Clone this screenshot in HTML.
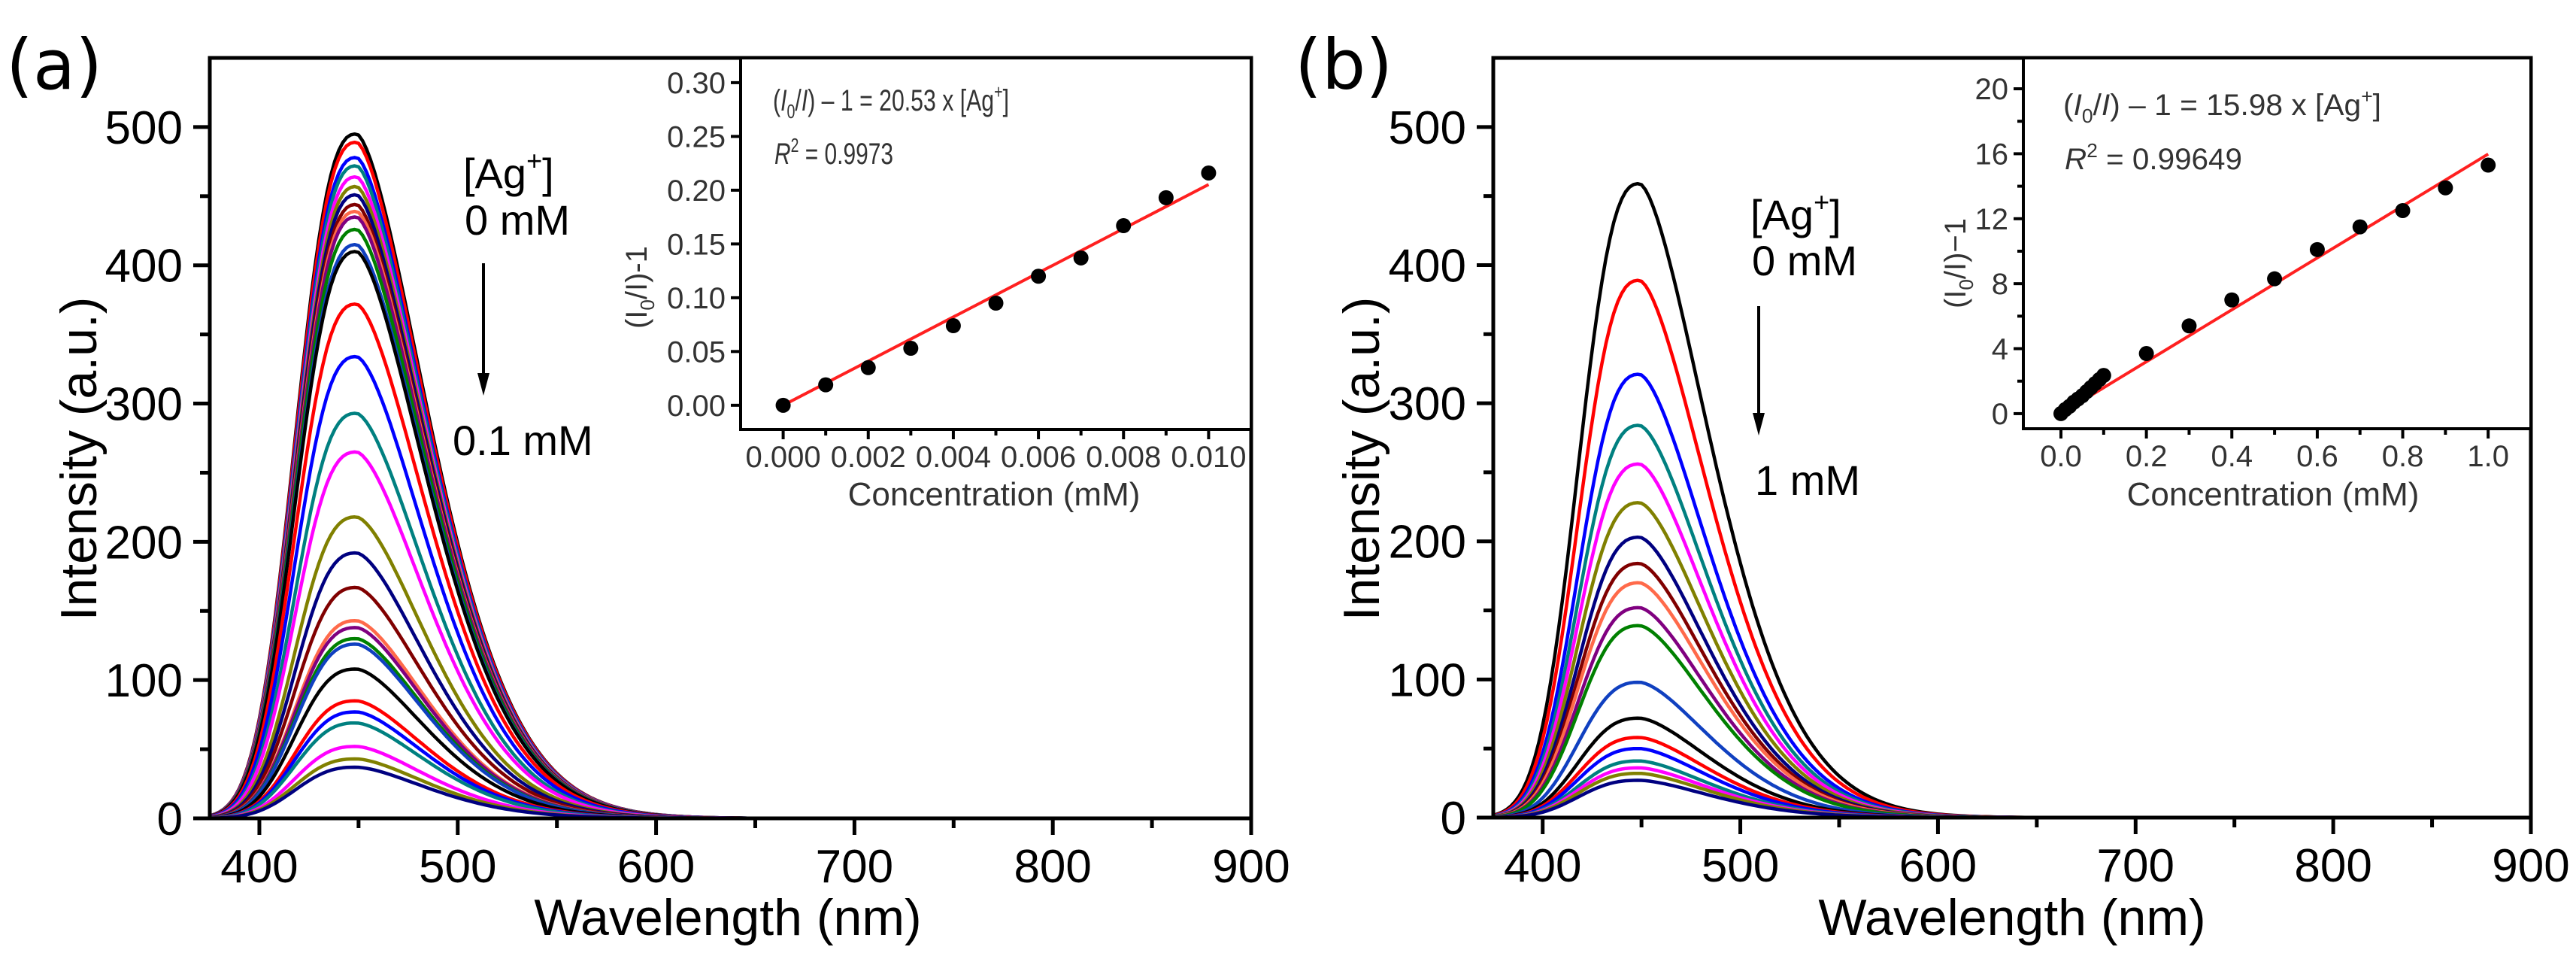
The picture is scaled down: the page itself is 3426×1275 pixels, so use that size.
<!DOCTYPE html>
<html><head><meta charset="utf-8"><style>
html,body{margin:0;padding:0;background:#fff;}
svg{display:block;font-family:"Liberation Sans",Arial,sans-serif;}
</style></head><body>
<svg id="fig" width="3426" height="1275" viewBox="0 0 3426 1275" xmlns="http://www.w3.org/2000/svg"></svg>
<script>
// ---- data ----
const peaksA = [495,489,478,472,464,457,451,444,439,435,426,415,410,372,334,293,265,218,192,167,143,138,130,126,108,85,77,69,52,43,37];
const peaksB = [459,389,321,284,256,228,203,184,170,152,139,98,72,58,50,41,36,32,27];
const insetAx = [0,0.001,0.002,0.003,0.004,0.005,0.006,0.007,0.008,0.009,0.010];
const insetAy = [0,0.019,0.035,0.053,0.074,0.095,0.120,0.137,0.167,0.193,0.216];
const insetBx = [0,0.01,0.02,0.03,0.04,0.05,0.06,0.07,0.08,0.09,0.1,0.2,0.3,0.4,0.5,0.6,0.7,0.8,0.9,1.0];
const insetBy = [0,0.25,0.45,0.7,0.9,1.1,1.35,1.6,1.85,2.1,2.35,3.7,5.4,7.0,8.3,10.1,11.5,12.5,13.9,15.3];
const slopeA = 20.53;
const slopeB = 15.98;
const mainXTicks = [400,500,600,700,800,900];
const mainYTicks = [0,100,200,300,400,500];
const insetAXTicks = ["0.000","0.002","0.004","0.006","0.008","0.010"];
const insetAYTicks = ["0.00","0.05","0.10","0.15","0.20","0.25","0.30"];
const insetBXTicks = ["0.0","0.2","0.4","0.6","0.8","1.0"];
const insetBYTicks = ["0","4","8","12","16","20"];
const colors = ["#000000","#ff0000","#0000ff","#008080","#ff00ff","#808000","#000080","#800000","#ff6a4a","#800080","#008000","#1040c0"];

const svg = document.getElementById('fig');
const NS = "http://www.w3.org/2000/svg";
function el(tag, attrs, parent){
  const e = document.createElementNS(NS, tag);
  for (const k in attrs) e.setAttribute(k, attrs[k]);
  (parent||svg).appendChild(e);
  return e;
}
function shape(x, peak){
  const c = 449;
  const d = x - c;
  let f;
  if (d < 0) f = Math.exp(-Math.pow(-d/38, 2.58));
  else f = Math.exp(-Math.pow(d/54, 1.6));
  return peak*f;
}
function mainPanel(g, L, R, B, T, peaks, name){
  const xmin=375, xmax=900, ymin=0, ymax=550;
  const sx = v => L + (v-xmin)/(xmax-xmin)*(R-L);
  const sy = v => B - (v-ymin)/(ymax-ymin)*(B-T);
  const cg = el('g', {}, g);
  
  
  peaks.forEach((p, i) => {
    let d = '';
    for (let x = 376; x <= 706; x += 2) {
      d += (x===376?'M':'L') + sx(x).toFixed(1) + ',' + sy(shape(x,p)).toFixed(1);
    }
    const path = el('path', {d:d, fill:'none', stroke:colors[i%colors.length], 'stroke-width':4.5, 'stroke-linejoin':'round'}, cg);
    
    
  });
  const ax = el('g', {stroke:'#000','stroke-width':5,fill:'none'}, g);
  
  
  el('path', {d:`M${L},${T}L${R},${T}L${R},${B}L${L},${B}Z`}, ax);
  mainXTicks.forEach(v => {
    el('line', {x1:sx(v),y1:B,x2:sx(v),y2:B+22}, ax);
    const t = el('text', {x:sx(v), y:B+85, 'font-size':62, 'text-anchor':'middle', fill:'#000', stroke:'none'}, g);
    t.textContent = v;
    
    
  });
  for (let v=450; v<900; v+=100) el('line', {x1:sx(v),y1:B,x2:sx(v),y2:B+13}, ax);
  mainYTicks.forEach(v => {
    el('line', {x1:L,y1:sy(v),x2:L-22,y2:sy(v)}, ax);
    const t = el('text', {x:L-36, y:sy(v)+22, 'font-size':62, 'text-anchor':'end', fill:'#000', stroke:'none'}, g);
    t.textContent = v;
    
    
  });
  for (let v=50; v<550; v+=100) el('line', {x1:L,y1:sy(v),x2:L-13,y2:sy(v)}, ax);
}
function inset(g, L, R, B, T, xmin, xmax, ymin, ymax, xs, ys, slope, xt, yt, xminor, yminor, name){
  const sx = v => L + (v-xmin)/(xmax-xmin)*(R-L);
  const sy = v => B - (v-ymin)/(ymax-ymin)*(B-T);
  el('rect', {x:L,y:T,width:R-L,height:B-T,fill:'#fff',stroke:'none'}, g);
  const ax = el('g', {stroke:'#000','stroke-width':4,fill:'none'}, g);
  
  
  el('path', {d:`M${L},${T}L${R},${T}L${R},${B}L${L},${B}Z`}, ax);
  xt.forEach(s => {
    const v = parseFloat(s);
    el('line', {x1:sx(v),y1:B,x2:sx(v),y2:B+13}, ax);
    const t = el('text', {x:sx(v), y:B+50, 'font-size':40, 'text-anchor':'middle', fill:'#333', stroke:'none'}, g);
    t.textContent = s;
    
    
  });
  xminor.forEach(v => el('line', {x1:sx(v),y1:B,x2:sx(v),y2:B+8}, ax));
  yt.forEach(s => {
    const v = parseFloat(s);
    el('line', {x1:L,y1:sy(v),x2:L-13,y2:sy(v)}, ax);
    const t = el('text', {x:L-20, y:sy(v)+14, 'font-size':40, 'text-anchor':'end', fill:'#333', stroke:'none'}, g);
    t.textContent = s;
    
    
  });
  yminor.forEach(v => el('line', {x1:L,y1:sy(v),x2:L-8,y2:sy(v)}, ax));
  const fit = el('line', {x1:sx(0),y1:sy(0),x2:sx(xs[xs.length-1]),y2:sy(slope*xs[xs.length-1]),stroke:'#ff2020','stroke-width':4}, g);
  
  
  xs.forEach((x,i) => {
    const c = el('circle', {cx:sx(x), cy:sy(ys[i]), r:10, fill:'#000'}, g);
    
    
  });
}
const gA = el('g', {});


mainPanel(gA, 279, 1664, 1088, 77, peaksA, 'panel-a');
inset(gA, 985, 1664, 571, 77, -0.001, 0.011, -0.0225, 0.323, insetAx, insetAy, slopeA,
  insetAXTicks, insetAYTicks, [0.001,0.003,0.005,0.007,0.009], [], 'inset-a');
const gB = el('g', {});


mainPanel(gB, 1986, 3366, 1087, 77, peaksB, 'panel-b');
inset(gB, 2691, 3366, 570, 77, -0.088, 1.10, -0.93, 21.9, insetBx, insetBy, slopeB,
  insetBXTicks, insetBYTicks, [0.1,0.3,0.5,0.7,0.9], [2,6,10,14,18], 'inset-b');
</script>
<svg style="position:absolute;left:0;top:0" width="3426" height="1275" font-family="Liberation Sans, Arial, sans-serif">
  <text x="8" y="118" font-size="92" font-family="DejaVu Sans, sans-serif">(a)</text>
  <text x="1722" y="118" font-size="92" font-family="DejaVu Sans, sans-serif">(b)</text>
  <text transform="translate(128,610) rotate(-90)" font-size="68" text-anchor="middle">Intensity (a.u.)</text>
  <text transform="translate(1834,610) rotate(-90)" font-size="68" text-anchor="middle">Intensity (a.u.)</text>
  <text x="968" y="1243" font-size="68" text-anchor="middle">Wavelength (nm)</text>
  <text x="2676" y="1243" font-size="68" text-anchor="middle">Wavelength (nm)</text>
  <text x="616" y="250" font-size="56">[Ag<tspan font-size="36" dy="-24">+</tspan><tspan dy="24">]</tspan></text>
  <text x="618" y="312" font-size="56">0 mM</text>
  <line x1="643" y1="350" x2="643" y2="500" stroke="#000" stroke-width="4"/>
  <polygon points="635,496 651,496 643,526" fill="#000"/>
  <text x="602" y="605" font-size="56">0.1 mM</text>
  <text x="2328" y="305" font-size="56">[Ag<tspan font-size="36" dy="-24">+</tspan><tspan dy="24">]</tspan></text>
  <text x="2330" y="366" font-size="56">0 mM</text>
  <line x1="2339" y1="407" x2="2339" y2="553" stroke="#000" stroke-width="4"/>
  <polygon points="2331,549 2347,549 2339,579" fill="#000"/>
  <text x="2334" y="658" font-size="56">1 mM</text>
  <text x="1028" y="147" font-size="40" fill="#333" textLength="314" lengthAdjust="spacingAndGlyphs">(<tspan font-style="italic">I</tspan><tspan font-size="26" dy="10">0</tspan><tspan dy="-10">/</tspan><tspan font-style="italic">I</tspan>) – 1 = 20.53 x [Ag<tspan font-size="26" dy="-16">+</tspan><tspan dy="16">]</tspan></text>
  <text x="1030" y="218" font-size="40" fill="#333" textLength="158" lengthAdjust="spacingAndGlyphs"><tspan font-style="italic">R</tspan><tspan font-size="26" dy="-16">2</tspan><tspan dy="16"> = 0.9973</tspan></text>
  <text x="2744" y="153" font-size="40" fill="#333" textLength="423" lengthAdjust="spacingAndGlyphs">(<tspan font-style="italic">I</tspan><tspan font-size="26" dy="10">0</tspan><tspan dy="-10">/</tspan><tspan font-style="italic">I</tspan>) – 1 = 15.98 x [Ag<tspan font-size="26" dy="-16">+</tspan><tspan dy="16">]</tspan></text>
  <text x="2746" y="225" font-size="40" fill="#333" textLength="236" lengthAdjust="spacingAndGlyphs"><tspan font-style="italic">R</tspan><tspan font-size="26" dy="-16">2</tspan><tspan dy="16"> = 0.99649</tspan></text>
  <text x="1322" y="672" font-size="44" fill="#333" text-anchor="middle">Concentration (mM)</text>
  <text x="3023" y="672" font-size="44" fill="#333" text-anchor="middle">Concentration (mM)</text>
  <text transform="translate(860,382) rotate(-90)" font-size="40" fill="#333" text-anchor="middle">(I<tspan font-size="26" dy="10">0</tspan><tspan dy="-10">/I)-1</tspan></text>
  <text transform="translate(2614,350) rotate(-90)" font-size="40" fill="#333" text-anchor="middle">(I<tspan font-size="26" dy="10">0</tspan><tspan dy="-10">/I)−1</tspan></text>
</svg>
</body></html>
